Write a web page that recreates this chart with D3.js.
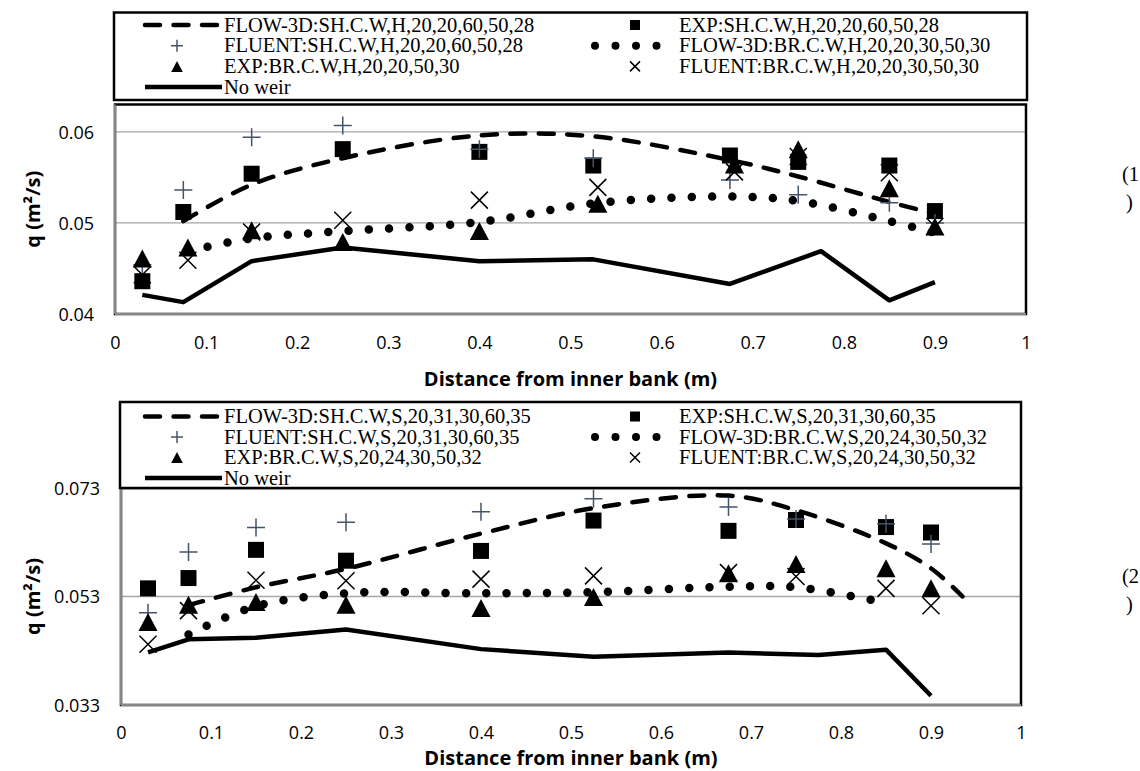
<!DOCTYPE html>
<html>
<head>
<meta charset="utf-8">
<script src="https://cdn.jsdelivr.net/npm/d3@7"></script>
<style>
  body { margin: 0; background: #fff; }
</style>
</head>
<body>
<div id="d3-container"></div>
<script>
// x axis ticks (both charts)
const xTicks = [0, 0.1, 0.2, 0.3, 0.4, 0.5, 0.6, 0.7, 0.8, 0.9, 1];

// ---- chart (1) ----
const topYTicks = [0.04, 0.05, 0.06];
const topLabels = [
  "FLOW-3D:SH.C.W,H,20,20,60,50,28", "EXP:SH.C.W,H,20,20,60,50,28",
  "FLUENT:SH.C.W,H,20,20,60,50,28", "FLOW-3D:BR.C.W,H,20,20,30,50,30",
  "EXP:BR.C.W,H,20,20,50,30", "FLUENT:BR.C.W,H,20,20,30,50,30", "No weir"
];
const topXsh = [0.03, 0.075, 0.15, 0.25, 0.4, 0.525, 0.675, 0.75, 0.85, 0.9];
const topXbr = [0.03, 0.08, 0.15, 0.25, 0.4, 0.53, 0.68, 0.75, 0.85, 0.9];
const topExpSH = [0.0436, 0.0512, 0.0554, 0.0581, 0.0578, 0.0563, 0.0574, 0.0567, 0.0563, 0.0513];
const topFluentSH = [0.0454, 0.0536, 0.0594, 0.0607, 0.0581, 0.0571, 0.0547, 0.0531, 0.0522, 0.0500];
const topExpBR = [0.0461, 0.0473, 0.0492, 0.0479, 0.0491, 0.0521, 0.0564, 0.0581, 0.0538, 0.0496];
const topFluentBR = [0.0443, 0.0459, 0.0490, 0.0503, 0.0525, 0.0539, 0.0556, 0.0573, 0.0555, 0.0496];
const topFlowSHx = [0.075, 0.15, 0.25, 0.4, 0.525, 0.675, 0.75, 0.85, 0.9];
const topFlowSH = [0.0502, 0.0542, 0.0571, 0.0596, 0.0595, 0.0569, 0.0551, 0.0523, 0.0510];
const topFlowBRx = [0.08, 0.15, 0.25, 0.4, 0.53, 0.68, 0.75, 0.85, 0.9];
const topFlowBR = [0.0469, 0.0483, 0.0491, 0.0501, 0.0522, 0.0529, 0.0524, 0.0502, 0.0489];
const topNoWeirX = [0.03, 0.075, 0.15, 0.25, 0.4, 0.525, 0.675, 0.775, 0.85, 0.9];
const topNoWeir = [0.0421, 0.0413, 0.0458, 0.0473, 0.0458, 0.0460, 0.0433, 0.0469, 0.0415, 0.0435];

// ---- chart (2) ----
const botYTicks = [0.033, 0.053, 0.073];
const botLabels = [
  "FLOW-3D:SH.C.W,S,20,31,30,60,35", "EXP:SH.C.W,S,20,31,30,60,35",
  "FLUENT:SH.C.W,S,20,31,30,60,35", "FLOW-3D:BR.C.W,S,20,24,30,50,32",
  "EXP:BR.C.W,S,20,24,30,50,32", "FLUENT:BR.C.W,S,20,24,30,50,32", "No weir"
];
const botX = [0.03, 0.075, 0.15, 0.25, 0.4, 0.525, 0.675, 0.75, 0.85, 0.9];
const botExpSH = [0.0545, 0.0564, 0.0616, 0.0596, 0.0614, 0.0670, 0.0651, 0.0671, 0.0658, 0.0648];
const botFluentSH = [0.0500, 0.0612, 0.0657, 0.0667, 0.0686, 0.0710, 0.0695, 0.0673, 0.0664, 0.0627];
const botExpBR = [0.0483, 0.0515, 0.0520, 0.0515, 0.0509, 0.0529, 0.0573, 0.0590, 0.0582, 0.0545];
const botFluentBR = [0.0442, 0.0504, 0.0560, 0.0559, 0.0562, 0.0568, 0.0574, 0.0567, 0.0545, 0.0513];
const botFlowSHx = [0.075, 0.15, 0.25, 0.4, 0.525, 0.675, 0.75, 0.85, 0.9, 0.935];
const botFlowSH = [0.0514, 0.0547, 0.0581, 0.0646, 0.0693, 0.0716, 0.0689, 0.0628, 0.0582, 0.0530];
const botFlowBRx = [0.075, 0.15, 0.25, 0.4, 0.525, 0.675, 0.75, 0.85];
const botFlowBR = [0.0460, 0.0512, 0.0536, 0.0536, 0.0538, 0.0548, 0.0547, 0.0518];
const botNoWeirX = [0.03, 0.075, 0.15, 0.25, 0.4, 0.525, 0.675, 0.775, 0.85, 0.9];
const botNoWeir = [0.0427, 0.0451, 0.0454, 0.0469, 0.0433, 0.0419, 0.0427, 0.0422, 0.0432, 0.0347];

const sans = "'Open Sans', 'DejaVu Sans', sans-serif";
const serif = "'Liberation Serif', 'Times New Roman', serif";
const plusColor = "#44546a";

const svg = d3.select("#d3-container")
  .append("svg")
  .attr("width", 1140)
  .attr("height", 771);
svg.append("rect").attr("width", 1140).attr("height", 771).attr("fill", "#fff");

// marker shapes, centred on the point
const marks = {
  square: s => `M${-s / 2},${-s / 2}h${s}v${s}h${-s}Z`,
  triangle: s => `M0,${-s / 2}L${s * 0.53},${s / 2}L${-s * 0.53},${s / 2}Z`,
  plus: s => `M${-s / 2},0H${s / 2}M0,${-s / 2}V${s / 2}`,
  times: s => `M${-s / 2},${-s / 2}L${s / 2},${s / 2}M${s / 2},${-s / 2}L${-s / 2},${s / 2}`
};

function markStyle(sel, type) {
  if (type === "plus") sel.attr("fill", "none").attr("stroke", plusColor).attr("stroke-width", 1.5);
  else if (type === "times") sel.attr("fill", "none").attr("stroke", "#000").attr("stroke-width", 1.5);
  else sel.attr("fill", "#000");
}

function lineStyle(sel, type) {
  sel.attr("fill", "none").attr("stroke", "#000");
  if (type === "dash") sel.attr("stroke-width", 4.5).attr("stroke-dasharray", "15 13.5").attr("stroke-linecap", "round");
  else if (type === "dots") sel.attr("stroke-width", 8.5).attr("stroke-dasharray", "0 20.3").attr("stroke-linecap", "round");
  else sel.attr("stroke-width", 4.5).attr("stroke-linejoin", "round");
}

// legend columns: sample line, marker centre, text start
const legendCols = [
  { x0: 145, x1: 222, mark: 177, text: 224 },
  { x0: 595, x1: 677, mark: 635, text: 679 }
];

function drawChart(c) {
  const x = d3.scaleLinear().domain([0, 1]).range([c.left, c.right]);
  const y = d3.scaleLinear().domain(c.yDomain).range([c.bottom, c.top]);
  const g = svg.append("g");

  // gridlines
  g.selectAll(".grid")
    .data(c.yTicks.filter(t => y(t) > c.top + 2 && y(t) < c.bottom - 2))
    .join("line")
    .attr("x1", c.left).attr("x2", c.right)
    .attr("y1", d => y(d)).attr("y2", d => y(d))
    .attr("stroke", "#a6a6a6").attr("stroke-width", 1.4);

  // plot frame + grey axes
  g.append("rect")
    .attr("x", c.left).attr("y", c.top)
    .attr("width", c.right - c.left).attr("height", c.bottom - c.top)
    .attr("fill", "none").attr("stroke", "#000").attr("stroke-width", 2.5);
  g.append("line").attr("x1", c.left).attr("x2", c.left).attr("y1", c.top).attr("y2", c.bottom)
    .attr("stroke", "#868686").attr("stroke-width", 2.2);
  g.append("line").attr("x1", c.left).attr("x2", c.right).attr("y1", c.bottom).attr("y2", c.bottom)
    .attr("stroke", "#868686").attr("stroke-width", 2.2);

  // x axis labels
  g.append("g")
    .attr("transform", `translate(0,${c.xTickY})`)
    .call(d3.axisBottom(x).tickValues(xTicks).tickSize(0).tickPadding(0).tickFormat(d => String(d)))
    .call(a => a.select(".domain").remove())
    .attr("font-family", sans).attr("font-size", "18px")
    .selectAll("text").attr("dy", "0.36em").attr("fill", "#000");

  // y axis labels
  g.append("g")
    .attr("transform", `translate(${c.left - 21},0)`)
    .call(d3.axisLeft(y).tickValues(c.yTicks).tickSize(0).tickPadding(0).tickFormat(d => String(d)))
    .call(a => a.select(".domain").remove())
    .attr("font-family", sans).attr("font-size", "18px")
    .selectAll("text").attr("dy", "0.36em").attr("fill", "#000");

  // axis titles
  g.append("text")
    .attr("x", (c.left + c.right) / 2).attr("y", c.xTitleY).attr("dy", "0.36em")
    .attr("text-anchor", "middle").attr("font-family", sans)
    .attr("font-size", "20px").attr("font-weight", 700)
    .text("Distance from inner bank (m)");
  g.append("text")
    .attr("transform", `translate(33,${(c.top + c.bottom) / 2}) rotate(-90)`)
    .attr("dy", "0.36em")
    .attr("text-anchor", "middle").attr("font-family", sans)
    .attr("font-size", "20px").attr("font-weight", 700)
    .text("q (m²/s)");

  // series, in legend order
  const series = [
    { type: "dash", xs: c.flowSHx, ys: c.flowSH, col: 0, row: 0 },
    { type: "square", size: 16, xs: c.xsh, ys: c.expSH, col: 1, row: 0 },
    { type: "plus", size: 18, xs: c.xsh, ys: c.fluentSH, col: 0, row: 1 },
    { type: "dots", xs: c.flowBRx, ys: c.flowBR, col: 1, row: 1 },
    { type: "triangle", size: 18, xs: c.xbr, ys: c.expBR, col: 0, row: 2 },
    { type: "times", size: 17, xs: c.xbr, ys: c.fluentBR, col: 1, row: 2 },
    { type: "solid", xs: c.noWeirX, ys: c.noWeir, col: 0, row: 3 }
  ];

  const smooth = d3.line().x(d => x(d[0])).y(d => y(d[1])).curve(d3.curveCatmullRom);
  const straight = d3.line().x(d => x(d[0])).y(d => y(d[1]));

  series.forEach(s => {
    const pts = d3.zip(s.xs, s.ys);
    if (marks[s.type]) {
      g.append("g").selectAll("path")
        .data(pts)
        .join("path")
        .attr("transform", d => `translate(${x(d[0])},${y(d[1])})`)
        .attr("d", marks[s.type](s.size))
        .call(markStyle, s.type);
    } else {
      g.append("path")
        .datum(pts)
        .attr("d", s.type === "solid" ? straight : smooth)
        .call(lineStyle, s.type);
    }
  });

  // legend box
  const lg = c.legend;
  g.append("rect")
    .attr("x", lg.x0).attr("y", lg.y0)
    .attr("width", lg.x1 - lg.x0).attr("height", lg.y1 - lg.y0)
    .attr("fill", "#fff").attr("stroke", "#000").attr("stroke-width", 2.5);

  const sizes = { square: 10, plus: 12, triangle: 11, times: 10 };
  series.forEach((s, i) => {
    const col = legendCols[s.col];
    const ry = lg.rows[s.row];
    if (marks[s.type]) {
      g.append("path")
        .attr("transform", `translate(${col.mark},${ry})`)
        .attr("d", marks[s.type](sizes[s.type]))
        .call(markStyle, s.type);
    } else {
      g.append("line")
        .attr("x1", col.x0).attr("x2", col.x1).attr("y1", ry).attr("y2", ry)
        .call(lineStyle, s.type)
        .attr("stroke-width", s.type === "dots" ? 8 : 4.5)
        .attr("stroke-dasharray", s.type === "dots" ? "0 20.5" : s.type === "dash" ? "15 13.5" : null);
    }
    g.append("text")
      .attr("x", col.text).attr("y", ry).attr("dy", "0.33em")
      .attr("font-family", serif).attr("font-size", "20.5px")
      .text(c.labels[i]);
  });

  // chart number at right
  g.append("text").attr("x", 1122).attr("y", c.tagY).attr("dy", "0.33em")
    .attr("font-family", serif).attr("font-size", "20.5px").text(c.tag);
  g.append("text").attr("x", 1126).attr("y", c.tagY + 28).attr("dy", "0.33em")
    .attr("font-family", serif).attr("font-size", "20.5px").text(")");
}

drawChart({
  left: 115, right: 1026, top: 104.5, bottom: 314,
  yDomain: [0.04, 0.063], yTicks: topYTicks,
  xTickY: 343, xTitleY: 379,
  legend: { x0: 114, x1: 1027, y0: 12.5, y1: 100, rows: [25, 45.7, 66.4, 87.1] },
  labels: topLabels, tag: "(1", tagY: 174,
  xsh: topXsh, xbr: topXbr,
  expSH: topExpSH, fluentSH: topFluentSH, expBR: topExpBR, fluentBR: topFluentBR,
  flowSHx: topFlowSHx, flowSH: topFlowSH, flowBRx: topFlowBRx, flowBR: topFlowBR,
  noWeirX: topNoWeirX, noWeir: topNoWeir
});

drawChart({
  left: 121, right: 1021, top: 488, bottom: 705,
  yDomain: [0.033, 0.073], yTicks: botYTicks,
  xTickY: 733, xTitleY: 758,
  legend: { x0: 120, x1: 1021, y0: 402, y1: 488, rows: [416.5, 437, 457.5, 478] },
  labels: botLabels, tag: "(2", tagY: 576,
  xsh: botX, xbr: botX,
  expSH: botExpSH, fluentSH: botFluentSH, expBR: botExpBR, fluentBR: botFluentBR,
  flowSHx: botFlowSHx, flowSH: botFlowSH, flowBRx: botFlowBRx, flowBR: botFlowBR,
  noWeirX: botNoWeirX, noWeir: botNoWeir
});
</script>
</body>
</html>
